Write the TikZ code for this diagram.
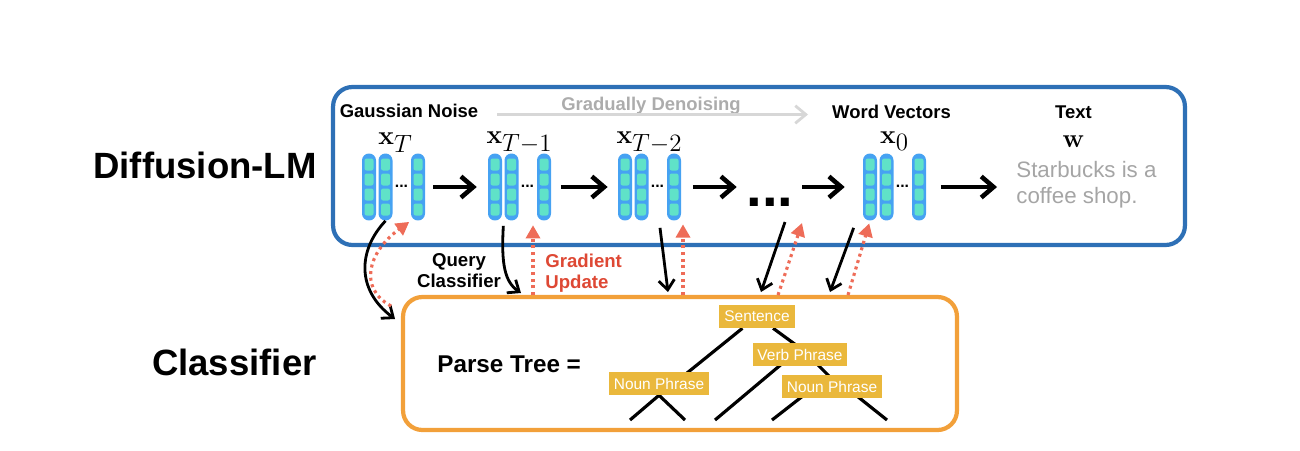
\documentclass[tikz,border=0pt]{standalone}
\usepackage{fix-cm}
\usepackage[no-math]{fontspec}
\setmainfont{Liberation Sans}
\usetikzlibrary{arrows.meta,calc,backgrounds}
\DeclareMathSizes{15}{15}{14.2}{10}

\definecolor{dlmblue}{RGB}{46,112,182}
\definecolor{clsorange}{RGB}{242,160,58}
\definecolor{colblue}{RGB}{70,162,242}
\definecolor{cellteal}{RGB}{96,226,200}
\definecolor{gradred}{RGB}{238,108,88}
\definecolor{gradtext}{RGB}{222,72,52}
\definecolor{treeyellow}{RGB}{234,184,60}
\definecolor{textgray}{RGB}{165,165,165}
\definecolor{denoisegray}{RGB}{172,172,172}
\definecolor{arrowgray}{RGB}{215,215,215}

\newcommand{\wordvec}[2]{%
  \node[vecgroup] (#1) at (#2+24.5,187) {};
  \foreach \k/\dx in {1/0,2/16.5,3/49}{%
    \node[veccol] (#1\k) at (#2+\dx,187) {};
    \foreach \cy in {-22.5,-7.5,7.5,22.5}
      \fill[cell] ($(#1\k)+(-4.5,\cy-6)$) rectangle ($(#1\k)+(4.5,\cy+6)$);
  }
  \node[smalldots] (#1d) at (#2+32.5,186) {...};
}

\begin{document}
\begin{tikzpicture}[
  x=0.02cm, y=-0.02cm,
  panel/.style={draw, rounded corners=11pt, line width=2.4pt, inner sep=0pt},
  vecgroup/.style={minimum width=1.24cm, minimum height=1.34cm, inner sep=0pt},
  veccol/.style={fill=colblue, rounded corners=3.9pt, minimum width=0.28cm,
                 minimum height=1.34cm, inner sep=0pt},
  cell/.style={fill=cellteal, rounded corners=1.2pt},
  smalldots/.style={font=\bfseries\fontsize{9}{10}\selectfont, inner sep=0pt},
  toplbl/.style={anchor=base, inner sep=0pt, font=\bfseries\fontsize{10.5}{12}\selectfont},
  mlbl/.style={anchor=base, inner sep=0pt, font=\fontsize{15}{18}\selectfont},
  biglbl/.style={anchor=base east, inner sep=0pt, font=\bfseries\fontsize{20.8}{24}\selectfont},
  tag/.style={fill=treeyellow, text=white, font=\fontsize{8.8}{10}\selectfont,
              minimum height=13pt, inner xsep=2.8pt, inner ysep=0pt},
  branch/.style={line width=1.8pt},
  harr/.style={-{Straight Barb[length=7pt,width=12pt]}, line width=2.6pt},
  qarr/.style={-{Straight Barb[length=5.5pt,width=9pt]}, line width=1.6pt},
  garr/.style={-{Triangle[length=7.5pt,width=8pt]}, draw=gradred, line width=1.8pt,
               dash pattern=on 1.7pt off 2.1pt},
  grayarr/.style={-{Straight Barb[length=6pt,width=10pt]}, draw=arrowgray, line width=1.6pt}
]
  \useasboundingbox (0,0) rectangle (1300,450);

  \node[biglbl] (dlmname) at (317,178) {Diffusion-LM};
  \node[biglbl] (clsname) at (317,375) {Classifier};

  \node[panel, draw=dlmblue, minimum width=17.04cm, minimum height=3.16cm] (dlm) at (759,166) {};
  \node[panel, draw=clsorange, minimum width=11.08cm, minimum height=2.66cm] (cls) at (680,363.5) {};

  \node[toplbl] (noise) at (409,117) {Gaussian Noise};
  \node[toplbl, text=denoisegray] (denoise) at (651,110) {Gradually Denoising};
  \node[toplbl] (wordv) at (891.5,118) {Word Vectors};
  \node[toplbl] (textlbl) at (1073.5,118) {Text};
  \coordinate (dn0) at (497,114.5);
  \coordinate (dn1) at (808,114.5);
  \draw[grayarr] (dn0) -- (dn1);

  \wordvec{xT}{369}
  \wordvec{xTi}{495}
  \wordvec{xTii}{625}
  \wordvec{xZ}{870}
  \node[font=\bfseries\fontsize{32}{32}\selectfont, inner sep=0pt] (bigdots) at (770,202) {...};

  \node[mlbl] at ($(xT.north)+(2,-8.5)$) {$\mathbf{x}_T$};
  \node[mlbl] at ($(xTi.north)+(0,-10)$) {$\mathbf{x}_{T-1}$};
  \node[mlbl] at ($(xTii.north)+(0,-10)$) {$\mathbf{x}_{T-2}$};
  \node[mlbl] at ($(xZ.north)+(0,-10)$) {$\mathbf{x}_0$};
  \node[mlbl] (wlbl) at (1073.5,147) {$\mathbf{w}$};
  \node[anchor=west, inner sep=0pt, align=left, text=textgray,
        font=\fontsize{12.7}{15.3}\selectfont] (txt) at (1016,184.7) {Starbucks is a\\coffee shop.};

  \draw[harr, shorten <=4.5pt, shorten >=6.2pt] (xT3) -- (xTi1);
  \draw[harr, shorten <=5.4pt, shorten >=5.7pt] (xTi3) -- (xTii1);
  \draw[harr, shorten <=6.5pt, shorten >=5.4pt] (xTii3) -- (bigdots.west |- xTii3);
  \draw[harr, shorten <=4.8pt, shorten >=10.2pt] (bigdots.east |- xZ1) -- (xZ1);
  \draw[harr, shorten <=8.2pt, shorten >=10.8pt] (xZ3) -- (txt.west |- xZ3);

  \coordinate (q0) at (395,319);
  \coordinate (q1) at (521,293);
  \coordinate (q2) at (668,292);
  \coordinate (q3) at (761,292);
  \coordinate (q4) at (830,292);
  \coordinate (g0) at (391,306);
  \coordinate (g1) at (533,295);
  \coordinate (g2) at (683,295);
  \coordinate (g3) at (778,295);
  \coordinate (g4) at (848,295);

  \draw[qarr] (xT2.south) .. controls (358,250) and (356,290) .. (q0);
  \draw[garr, shorten >=1pt] (g0) .. controls (358,288) and (368,252) .. (xT3.south west);
  \draw[qarr] ($(xTi1.south east)+(1,5)$) .. controls (501,265) and (505,282) .. (q1);
  \draw[garr, shorten >=2.5pt] (g1) -- (g1 |- xTi3.south);
  \draw[qarr] ($(xTii.south)+(10.5,7)$) -- (q2);
  \draw[garr, shorten >=2pt] (g2) -- (g2 |- xTii3.south);
  \draw[qarr] ($(bigdots)+(15,20)$) -- (q3);
  \draw[garr] (g3) -- ($(bigdots)+(32,21)$);
  \draw[qarr] ($(xZ1.south west)+(-9,7)$) -- (q4);
  \draw[garr, shorten >=1.5pt] (g4) -- (xZ1.south);

  \node[align=center, inner sep=0pt, font=\bfseries\fontsize{10.6}{12}\selectfont]
    (query) at (459,271) {Query\\Classifier};
  \node[anchor=west, align=left, inner sep=0pt, text=gradtext,
        font=\bfseries\fontsize{10.6}{12}\selectfont] (grad) at (545,273) {Gradient\\Update};

  \node[anchor=base west, inner sep=0pt, font=\bfseries\fontsize{13.8}{16}\selectfont]
    (ptree) at (437,372) {Parse Tree =};
  \node[tag] (sent) at (757,316.5) {Sentence};
  \node[tag] (vp) at (800,354.5) {Verb Phrase};
  \node[tag] (npl) at (659,383.5) {Noun Phrase};
  \node[tag] (npr) at (832,386.5) {Noun Phrase};
  \coordinate (l1) at (630,420);
  \coordinate (l2) at (685,420);
  \coordinate (l3) at (715,420);
  \coordinate (l4) at (772,420);
  \coordinate (l5) at (887,420);
  \begin{scope}[on background layer]
    \draw[branch] (sent) -- ($(npl)+(15,0)$);
    \draw[branch] (sent) -- ($(vp)+(9,0)$);
    \draw[branch] ($(vp)+(-7,0)$) -- (l3);
    \draw[branch] ($(vp)+(7.5,0)$) -- ($(npr)+(7.5,0)$);
    \draw[branch] (npl.south) -- (l1);
    \draw[branch] (npl.south) -- (l2);
    \draw[branch] ($(npr)+(-17,0)$) -- (l4);
    \draw[branch] ($(npr)+(13,0)$) -- (l5);
  \end{scope}
\end{tikzpicture}
\end{document}
